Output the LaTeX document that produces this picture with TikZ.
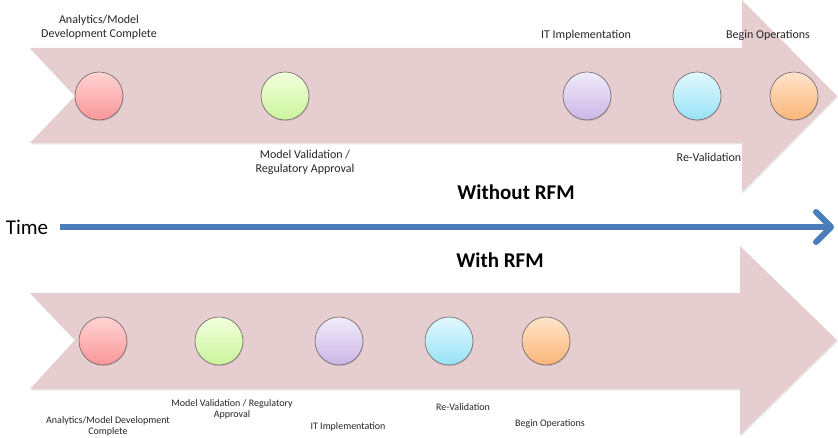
\documentclass[tikz,border=0pt]{standalone}
\usepackage{fontspec}
\setmainfont{Carlito}
\usetikzlibrary{arrows.meta,shadows}

\definecolor{band}{RGB}{230,206,208}
\definecolor{timeblue}{RGB}{74,126,187}
\definecolor{rimgray}{RGB}{110,100,100}
\definecolor{redtop}{RGB}{255,212,212}
\definecolor{redbot}{RGB}{250,150,152}
\definecolor{greentop}{RGB}{242,255,222}
\definecolor{greenbot}{RGB}{204,244,156}
\definecolor{purpletop}{RGB}{240,236,250}
\definecolor{purplebot}{RGB}{204,182,230}
\definecolor{cyantop}{RGB}{226,248,254}
\definecolor{cyanbot}{RGB}{152,226,246}
\definecolor{orangetop}{RGB}{255,228,204}
\definecolor{orangebot}{RGB}{250,182,120}

\tikzset{
  bandarrow/.style={fill=band, drop shadow={opacity=0.18, shadow xshift=0.8pt, shadow yshift=-1.5pt}},
  milestone/.style={circle, minimum size=48pt, inner sep=0pt, draw=rimgray, line width=0.6pt,
    drop shadow={opacity=0.25, shadow xshift=0.6pt, shadow yshift=-1.2pt}},
  dotred/.style={milestone, top color=redtop, bottom color=redbot},
  dotgreen/.style={milestone, top color=greentop, bottom color=greenbot},
  dotpurple/.style={milestone, top color=purpletop, bottom color=purplebot},
  dotcyan/.style={milestone, top color=cyantop, bottom color=cyanbot},
  dotorange/.style={milestone, top color=orangetop, bottom color=orangebot},
  biglabel/.style={font=\fontsize{12}{14}\selectfont, text=black!85, align=center, inner sep=0pt},
  smalllabel/.style={font=\fontsize{10}{11}\selectfont, text=black!85, align=center, inner sep=0pt},
  heading/.style={font=\fontsize{21}{24}\bfseries\selectfont, inner sep=0pt},
  timeline/.style={draw=timeblue, line width=6pt,
    -{Straight Barb[length=15pt, width=30pt, line width=6pt, round]}}
}

\begin{document}
\begin{tikzpicture}[x=1pt, y=-1pt]
\useasboundingbox (0,0) rectangle (838,438);

% upper band: the schedule without RFM
\fill[bandarrow] (30,48) -- (742,48) -- (742,0) -- (837,96) -- (742,192)
  -- (742,143) -- (30,143) -- (75,96) -- cycle;

% lower band: the schedule with RFM
\fill[bandarrow] (30,293) -- (740,293) -- (740,246) -- (837,340) -- (740,435)
  -- (740,389) -- (30,389) -- (75,340) -- cycle;

% milestones without RFM
\node[dotred]    (a1) at (99,96)  {};
\node[dotgreen]  (b1) at (285,96) {};
\node[dotpurple] (c1) at (587,96) {};
\node[dotcyan]   (d1) at (697,96) {};
\node[dotorange] (e1) at (794,96) {};

\node[biglabel] (la1) at (99,27)  {Analytics/Model\\Development Complete};
\node[biglabel] (lb1) at (305,162) {Model Validation /\\Regulatory Approval};
\node[biglabel] (lc1) at (586,35)  {IT Implementation};
\node[biglabel] (le1) at (768,35)  {Begin Operations};
\node[biglabel] (ld1) at (709,157) {Re-Validation};

% milestones with RFM
\node[dotred]    (a2) at (103,341) {};
\node[dotgreen]  (b2) at (219,341) {};
\node[dotpurple] (c2) at (339,341) {};
\node[dotcyan]   (d2) at (449,341) {};
\node[dotorange] (e2) at (546,341) {};

\node[smalllabel] (la2) at (108,426) {Analytics/Model Development\\Complete};
\node[smalllabel] (lb2) at (232,409) {Model Validation / Regulatory\\Approval};
\node[smalllabel] (lc2) at (348,427) {IT Implementation};
\node[smalllabel] (ld2) at (463,407) {Re-Validation};
\node[smalllabel] (le2) at (550,424) {Begin Operations};

% headings and time axis
\node[heading] (without) at (516,192) {Without RFM};
\node[heading] (with)    at (500,260) {With RFM};

\node[font=\fontsize{21}{24}\selectfont, inner sep=0pt] (time) at (27,227) {Time};
\coordinate (tstart) at (60,227);
\coordinate (tend)   at (834,227);
\draw[timeline] (tstart) -- (tend);
\end{tikzpicture}
\end{document}
